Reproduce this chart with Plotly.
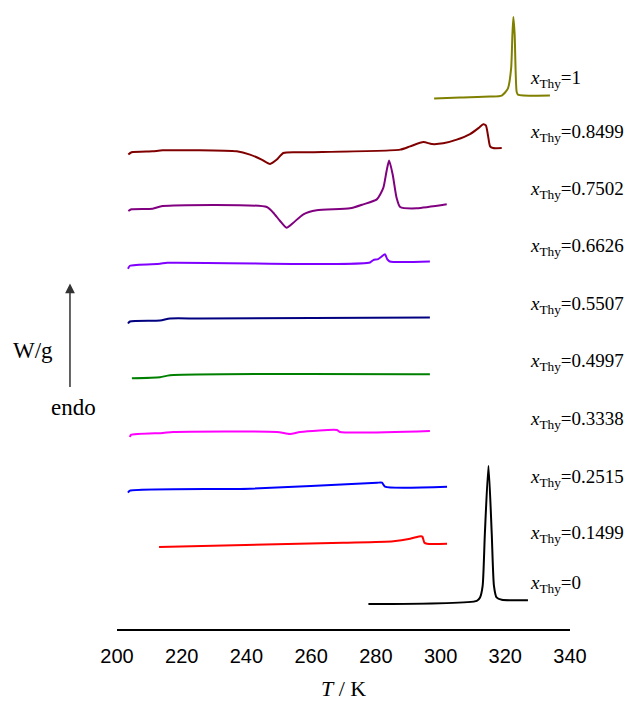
import plotly.graph_objects as go

# Mole fractions of thymol (labels), top to bottom
labels = ["1", "0.8499", "0.7502", "0.6626", "0.5507", "0.4997", "0.3338", "0.2515", "0.1499", "0"]
colors = ["#808000", "#800000", "#800080", "#8000FF", "#000080", "#008000", "#FF00FF", "#0000FF", "#FF0000", "#000000"]

# Temperatures (K) and heat-flow signals (arbitrary, offset units)
T_1 = [298.0, 306.0, 315.3, 318.9, 320.8, 321.8, 322.2, 322.5, 322.9, 323.5, 323.9, 333.8]
S_1 = [535, 536, 537, 538, 545, 565, 599, 617, 599, 542, 539, 538]

T_08499 = [203.5, 204.5, 211.0, 214.1, 237.0, 241.1, 244.7, 247.3, 249.4, 251.4, 256.6, 287.5, 290.6, 294.7,
           297.3, 300.8, 305.0, 309.1, 311.7, 313.2, 314.0, 314.7, 315.3, 316.2, 318.9]
S_08499 = [478.7, 481, 482, 483, 482, 478.7, 473.7, 469.3, 473.7, 480.3, 481, 483.7, 487, 491.3,
           489.3, 490, 493.7, 499.3, 505.3, 509.3, 508, 497, 487, 485.3, 485.3]

T_07502 = [203.5, 204.5, 211.0, 214.1, 246.3, 248.3, 250.4, 252.4, 254.5, 257.6, 261.7, 272.0, 276.1,
           280.3, 282.3, 283.3, 284.1, 285.2, 286.4, 287.5, 292.6, 301.9]
S_07502 = [422, 423.7, 424.3, 427, 426, 420.3, 412, 405.3, 410.3, 418.7, 422.7, 424.7, 428.7,
           433.7, 445.3, 462, 472.7, 458.7, 435.3, 426, 424.7, 428.7]

T_06626 = [203.4, 204.0, 213.3, 215.5, 266.8, 278.2, 279.2, 280.7, 281.7, 282.8, 283.5, 284.3, 296.7]
S_06626 = [364, 367, 369, 370, 368.7, 370.3, 372.7, 373.7, 376, 378.7, 373.7, 371.3, 371.3]

T_05507 = [203.4, 204.0, 213.3, 216.4, 225.7, 296.7]
S_05507 = [309, 311, 312, 314, 314, 315]

T_04997 = [204.6, 213.3, 216.4, 296.7]
S_04997 = [254, 255, 257, 258]

T_03338 = [204.0, 204.3, 214.2, 217.3, 249.4, 253.5, 256.6, 268.0, 268.9, 296.7]
S_03338 = [195, 197, 199, 200, 200, 198, 200, 202, 200, 201]

T_02515 = [203.4, 204.0, 241.1, 280.4, 281.9, 282.8, 302.0]
S_02515 = [139, 141, 143, 149, 149, 145, 145]

T_01499 = [213.0, 269.9, 285.4, 290.6, 293.9, 294.4, 295.0, 295.8, 302.0]
S_01499 = [84.3, 88.7, 90.3, 92.7, 95.3, 94.7, 88.7, 87.7, 87.7]

T_0 = [277.7, 311.2, 312.2, 313.0, 313.7, 314.8, 315.8, 316.5, 317.3, 318.9, 327.0]
S_0 = [27, 30.3, 33.7, 45.3, 98.7, 166, 98.7, 45.3, 33.7, 31.3, 31]

series_T = [T_1, T_08499, T_07502, T_06626, T_05507, T_04997, T_03338, T_02515, T_01499, T_0]
series_S = [S_1, S_08499, S_07502, S_06626, S_05507, S_04997, S_03338, S_02515, S_01499, S_0]

x_ticks = [200, 220, 240, 260, 280, 300, 320, 340]

# label anchor positions (layout)
label_x = 327.0
label_y = [555, 500, 443, 386, 328, 270, 212, 154, 97, 47]

fig = go.Figure()
for T, S, c, lab in zip(series_T, series_S, colors, labels):
    fig.add_trace(go.Scatter(x=T, y=S, mode="lines", line=dict(color=c, width=2, shape="spline", smoothing=0.6),
                             name=lab, showlegend=False, hoverinfo="skip"))

serif = "Liberation Serif"
for lab, ly in zip(labels, label_y):
    fig.add_annotation(x=label_x, y=ly, xref="x", yref="y", xanchor="left", yanchor="middle",
                       text="<i>x</i><sub>Thy</sub>=" + lab, showarrow=False,
                       font=dict(family=serif, size=19, color="black"))

# endo arrow
fig.add_annotation(x=-0.1038, y=0.558, xref="paper", yref="paper", ax=0, ay=105, axref="pixel", ayref="pixel",
                   text="", showarrow=True, arrowhead=2, arrowsize=1.3, arrowwidth=1.5, arrowcolor="#333333")
fig.add_annotation(x=-0.1854, y=0.450, xref="paper", yref="paper", xanchor="center", yanchor="middle",
                   text="W/g", showarrow=False, font=dict(family=serif, size=23, color="black"))
fig.add_annotation(x=-0.0971, y=0.3585, xref="paper", yref="paper", xanchor="center", yanchor="middle",
                   text="endo", showarrow=False, font=dict(family=serif, size=23, color="black"))

fig.update_layout(
    width=624, height=693,
    margin=dict(l=109, r=62, t=2, b=67),
    paper_bgcolor="white", plot_bgcolor="white",
    xaxis=dict(range=[200, 340], tickvals=x_ticks, ticktext=[str(v) for v in x_ticks],
               showline=True, linecolor="black", linewidth=2, ticks="", showgrid=False, zeroline=False,
               tickfont=dict(family="Liberation Sans", size=20, color="black"), ticklabelstandoff=8,
               title=dict(text="<i>T</i> / K", font=dict(family=serif, size=22, color="black"), standoff=17)),
    yaxis=dict(range=[2, 624], visible=False),
)

fig.write_html("out.html")
